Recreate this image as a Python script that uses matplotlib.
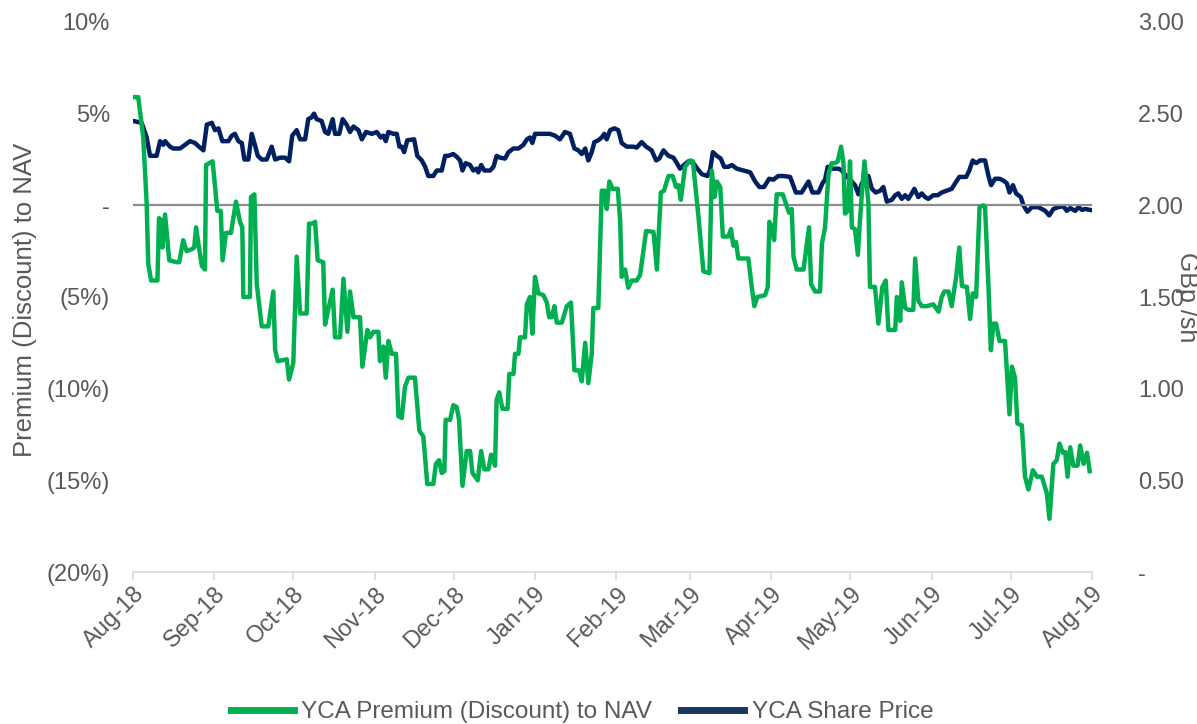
import pandas as pd
import matplotlib
matplotlib.use('Agg')
import matplotlib.pyplot as plt
import matplotlib.dates as mdates
from matplotlib.lines import Line2D

plt.rcParams['font.family'] = ['Liberation Sans', 'DejaVu Sans']

start = pd.Timestamp('2018-08-01')

# YCA premium (discount) to NAV, % -- x as days after 1 Aug 2018
prem_days = [0.1, 2.0, 3.9, 5.2, 5.8, 6.9, 9.3, 9.9, 10.7, 11.2, 12.2, 13.8, 16.6, 17.6, 19.1, 20.4,
             22.3, 23.3, 24.0, 24.9, 26.2, 27.4, 27.8, 30.3, 32.1, 33.4, 34.1, 35.4, 37.3, 39.2, 40.7,
             41.6, 42.0, 44.5, 44.9, 46.2, 47.1, 49.0, 51.5, 53.4, 54.1, 55.1, 58.5, 59.4, 61.0, 62.3,
             63.6, 66.1, 67.0, 68.3, 69.3, 70.3, 72.4, 73.1, 74.0, 76.0, 76.9, 78.8, 80.1, 81.6, 82.6,
             83.9, 86.4, 87.3, 89.2, 90.2, 91.5, 93.4, 94.0, 95.3, 96.2, 97.2, 98.5, 100.1, 101.0,
             102.3, 103.5, 104.8, 107.3, 109.0, 110.5, 112.0, 114.3, 115.3, 116.5, 117.5, 118.5,
             119.0, 120.7, 121.9, 123.2, 124.1, 125.4, 127.0, 128.3, 129.2, 131.2, 132.5, 133.7,
             135.3, 136.3, 137.8, 138.4, 139.4, 140.6, 142.6, 143.2, 144.8, 145.4, 146.7, 147.3,
             149.2, 149.9, 151.1, 152.0, 153.0, 154.3, 156.2, 157.5, 158.4, 159.4, 160.4, 161.3,
             163.2, 165.1, 166.7, 168.0, 169.8, 170.8, 172.1, 173.3, 174.6, 175.2, 177.1, 178.4,
             179.4, 180.3, 181.3, 182.5, 184.5, 185.4, 186.0, 187.3, 188.5, 189.8, 191.7, 193.0,
             195.3, 198.1, 199.4, 200.9, 202.1, 203.8, 205.4, 206.7, 207.6, 208.5, 210.1, 212.0,
             213.1, 215.2, 217.1, 219.4, 220.3, 221.3, 222.2, 223.5, 224.5, 226.6, 227.6, 228.5,
             229.5, 230.4, 234.2, 235.5, 236.5, 237.6, 240.6, 241.6, 242.2, 243.1, 244.0, 245.0,
             247.3, 249.7, 250.7, 251.4, 252.6, 255.2, 256.5, 257.3, 258.1, 259.6, 261.5, 262.2,
             263.4, 264.7, 265.9, 267.2, 268.2, 269.5, 270.4, 271.0, 272.1, 272.9, 273.6, 274.8,
             275.9, 276.7, 277.6, 278.4, 279.9, 280.5, 282.4, 283.7, 285.2, 286.5, 287.5, 290.1,
             290.7, 292.0, 292.6, 293.9, 295.1, 297.0, 297.7, 298.9, 300.2, 302.1, 304.6, 306.6,
             307.8, 308.8, 310.4, 311.6, 313.3, 314.5, 315.5, 317.4, 318.6, 319.6, 320.9, 322.2,
             323.7, 324.3, 325.6, 326.5, 327.5, 328.5, 329.8, 331.9, 333.6, 334.5, 335.7, 336.6,
             338.3, 339.5, 340.8, 342.5, 344.0, 345.9, 347.8, 348.8, 350.3, 351.6, 352.6, 353.9,
             354.8, 355.7, 356.7, 357.9, 359.5, 360.5, 361.8, 363.1, 364.1]
prem_pct = [5.9, 5.9, 3.7, 0.1, -3.2, -4.1, -4.1, -0.7, -0.8, -2.3, -0.5, -3.0, -3.1, -3.1, -1.9, -2.5,
            -2.4, -2.3, -1.2, -2.1, -3.3, -3.5, 2.2, 2.4, -0.3, -0.3, -3.0, -1.5, -1.5, 0.2, -0.9,
            -1.2, -5.0, -5.0, 0.45, 0.6, -4.3, -6.6, -6.6, -4.7, -7.9, -8.5, -8.4, -9.5, -8.6, -2.8,
            -5.9, -5.9, -1.0, -1.0, -0.9, -3.0, -3.1, -6.5, -5.9, -4.6, -7.2, -7.2, -4.0, -6.9, -4.7,
            -6.1, -6.1, -8.8, -6.8, -7.2, -6.9, -6.9, -8.5, -7.7, -9.4, -7.4, -8.1, -8.1, -11.5,
            -11.6, -9.9, -9.4, -9.4, -12.3, -12.6, -15.2, -15.2, -14.1, -13.9, -14.6, -14.5,
            -11.7, -11.7, -10.9, -11.0, -11.7, -15.3, -13.4, -13.4, -14.6, -15.0, -13.4, -14.4,
            -14.4, -13.6, -14.2, -10.6, -10.2, -11.1, -11.1, -9.2, -9.2, -8.1, -8.1, -7.2,
            -7.2, -5.4, -5.0, -7.0, -3.9, -4.8, -4.9, -5.3, -6.1, -6.1, -5.5, -6.4,
            -6.4, -5.5, -5.3, -9.0, -9.0, -9.6, -7.5, -9.7, -8.1, -5.6, -5.6, 0.8,
            0.8, -0.2, 1.3, 0.9, 0.9, -0.8, -3.9, -3.5, -4.5, -4.1, -4.1, -3.8,
            -1.4, -1.45, -3.5, 0.7, 0.8, 1.6, 1.6, 1.0, 1.1, 0.3, 2.1, 2.45,
            2.4, -0.6, -3.6, -3.7, 1.9, 0.45, 1.3, 1.0, -1.7, -1.7, -1.3, -2.2,
            -2.0, -2.9, -2.9, -4.45, -5.5, -5.0, -4.9, -4.45, -0.9, -1.2, -1.9, 0.6,
            0.6, -0.4, -0.2, -2.8, -3.5, -3.5, -2.1, -1.2, -4.3, -4.7, -4.7, -2.1,
            -1.2, 1.7, 2.3, 2.3, 2.4, 3.2, 2.3, -0.45, -0.3, 2.4, -1.2, -1.3,
            -2.7, -0.8, 1.0, 2.4, 0.1, -4.45, -4.45, -6.45, -4.45, -4.1, -6.8, -6.8,
            -5.0, -6.3, -4.2, -5.6, -5.7, -5.7, -2.9, -5.2, -5.5, -5.5, -5.4, -5.8,
            -5.0, -4.7, -4.7, -5.5, -3.9, -2.3, -4.4, -4.45, -6.2, -4.8, -5.0, -0.1,
            0.0, -0.1, -4.45, -7.9, -6.45, -6.45, -7.4, -7.4, -11.4, -8.8, -9.4, -11.9,
            -12.0, -14.8, -15.5, -14.45, -14.8, -14.8, -15.7, -17.1, -14.1, -13.9, -13.0, -13.5,
            -13.45, -14.8, -13.2, -14.2, -14.2, -13.1, -14.1, -13.5, -14.5]

# YCA share price, GBp/sh
price_days = [0.1, 3.3, 5.2, 6.5, 9.0, 10.3, 11.5, 12.2, 14.1, 15.3, 17.9, 19.8, 21.7, 23.6, 25.1,
              26.8, 28.1, 30.0, 31.2, 32.5, 34.0, 36.3, 37.6, 38.8, 40.1, 41.4, 42.4, 43.9, 45.2,
              46.2, 47.5, 49.0, 50.9, 52.8, 54.1, 56.0, 57.9, 59.4, 60.6, 62.3, 63.6, 65.5, 66.7,
              68.0, 68.9, 69.9, 71.8, 73.1, 74.3, 76.0, 76.9, 78.5, 79.8, 81.3, 82.6, 83.9, 85.8,
              87.1, 88.7, 90.9, 92.8, 94.3, 95.3, 96.2, 97.2, 99.1, 100.4, 101.4, 102.3, 103.2,
              104.4, 107.0, 108.2, 109.9, 111.2, 112.4, 114.3, 115.6, 117.5, 118.8, 120.0, 121.9,
              123.2, 124.5, 125.4, 126.6, 128.3, 129.5, 130.8, 131.4, 132.5, 133.7, 135.9, 137.2,
              138.4, 139.7, 141.6, 142.9, 144.8, 146.7, 148.6, 149.9, 151.1, 152.0, 153.0, 155.6,
              158.7, 160.6, 162.5, 164.4, 166.3, 168.0, 169.5, 170.8, 172.1, 173.3, 174.6, 175.6,
              177.1, 178.4, 179.4, 180.3, 181.6, 183.2, 184.7, 186.0, 187.9, 190.4, 191.7, 193.6,
              195.3, 197.4, 199.1, 200.3, 201.9, 203.8, 205.7, 207.0, 208.2, 209.7, 211.4, 213.3,
              214.8, 216.5, 218.6, 219.6, 220.7, 222.2, 223.7, 225.0, 226.6, 227.9, 229.8, 232.3,
              234.9, 236.8, 238.4, 240.2, 242.1, 243.7, 245.6, 247.5, 250.1, 251.0, 252.3, 254.5,
              255.8, 257.1, 258.6, 260.9, 262.4, 263.4, 264.4, 265.9, 268.5, 269.8, 271.7, 272.9,
              274.8, 276.1, 277.4, 278.6, 279.9, 281.2, 282.7, 284.4, 285.6, 286.9, 288.8, 290.1,
              291.3, 292.6, 293.9, 295.1, 296.4, 297.4, 298.9, 300.2, 301.5, 302.7, 304.6, 306.3,
              307.8, 309.7, 311.6, 312.9, 314.5, 317.1, 318.3, 319.6, 320.9, 322.4, 324.3, 325.6,
              326.6, 328.1, 329.8, 331.3, 332.6, 333.6, 334.9, 336.1, 337.9, 338.9, 340.4, 342.1,
              344.6, 347.2, 348.7, 350.3, 352.2, 354.1, 355.4, 356.7, 358.6, 359.9, 361.2, 362.4,
              364.3]
price_gbp = [2.46, 2.45, 2.37, 2.27, 2.27, 2.35, 2.33, 2.35, 2.32, 2.31, 2.31, 2.33, 2.35, 2.34, 2.32,
             2.30, 2.44, 2.45, 2.41, 2.42, 2.35, 2.35, 2.38, 2.39, 2.35, 2.34, 2.25, 2.25, 2.39,
             2.34, 2.27, 2.25, 2.25, 2.32, 2.25, 2.26, 2.26, 2.24, 2.38, 2.41, 2.36, 2.36, 2.47,
             2.48, 2.50, 2.47, 2.46, 2.40, 2.39, 2.47, 2.39, 2.39, 2.47, 2.44, 2.40, 2.43, 2.41,
             2.36, 2.40, 2.39, 2.40, 2.37, 2.38, 2.35, 2.40, 2.39, 2.39, 2.32, 2.32, 2.29,
             2.355, 2.36, 2.27, 2.245, 2.21, 2.16, 2.16, 2.19, 2.19, 2.27, 2.27, 2.28,
             2.265, 2.245, 2.19, 2.23, 2.22, 2.19, 2.20, 2.18, 2.22, 2.19, 2.19, 2.21,
             2.27, 2.26, 2.255, 2.29, 2.31, 2.31, 2.33, 2.36, 2.37, 2.34, 2.39, 2.39,
             2.39, 2.38, 2.36, 2.40, 2.39, 2.31, 2.30, 2.28, 2.31, 2.245, 2.29, 2.345,
             2.355, 2.37, 2.39, 2.36, 2.41, 2.42, 2.41, 2.34, 2.32, 2.32, 2.315, 2.345,
             2.32, 2.30, 2.245, 2.255, 2.30, 2.27, 2.26, 2.23, 2.20, 2.22, 2.24, 2.23,
             2.20, 2.17, 2.16, 2.19, 2.29, 2.27, 2.255, 2.21, 2.21, 2.22, 2.20, 2.19,
             2.18, 2.13, 2.10, 2.10, 2.145, 2.14, 2.16, 2.16, 2.155, 2.12, 2.07, 2.07,
             2.10, 2.13, 2.07, 2.07, 2.12, 2.14, 2.21, 2.20, 2.20, 2.19, 2.155, 2.14,
             2.11, 2.06, 2.12, 2.145, 2.16, 2.09, 2.07, 2.08, 2.10, 2.02, 2.03, 2.055,
             2.065, 2.035, 2.055, 2.035, 2.065, 2.09, 2.045, 2.065, 2.045, 2.035, 2.055, 2.055,
             2.07, 2.08, 2.09, 2.12, 2.155, 2.155, 2.19, 2.245, 2.23, 2.245, 2.245, 2.16,
             2.11, 2.145, 2.145, 2.135, 2.12, 2.07, 2.11, 2.065, 2.045, 2.0, 1.965, 1.99,
             1.99, 1.97, 1.945, 1.98, 1.99, 1.995, 1.97, 1.985, 1.97, 1.99, 1.975, 1.98,
             1.975]

left_ticks = [-20, -15, -10, -5, 0, 5, 10]
left_labels = ['(20%)', '(15%)', '(10%)', '(5%)', '-', '5%', '10%']
right_ticks = [0, 0.5, 1.0, 1.5, 2.0, 2.5, 3.0]
right_labels = ['-', '0.50', '1.00', '1.50', '2.00', '2.50', '3.00']

green = '#00B050'
navy = '#002060'
grey = '#595959'

prem_dates = start + pd.to_timedelta(prem_days, unit='D')
price_dates = start + pd.to_timedelta(price_days, unit='D')

fig = plt.figure(figsize=(11.97, 7.24), dpi=100)
ax = fig.add_axes([133 / 1197, 1 - 572 / 724, (1092 - 133) / 1197, 550 / 724])
ax2 = ax.twinx()

ax.axhline(0, color='#8c8c8c', lw=1.6, zorder=1)
ax.plot(prem_dates, prem_pct, color=green, lw=3.2, zorder=3)
ax2.plot(price_dates, price_gbp, color=navy, lw=3.2)

# green line sits above the navy one
ax.set_zorder(ax2.get_zorder() + 1)
ax.patch.set_visible(False)

ax.set_xlim(start, pd.Timestamp('2019-08-01'))
ax.set_ylim(-20, 10)
ax2.set_ylim(0, 3)

ax.set_yticks(left_ticks)
ax.set_yticklabels(left_labels)
ax2.set_yticks(right_ticks)
ax2.set_yticklabels(right_labels)

months = pd.date_range('2018-08-01', '2019-08-01', freq='MS')
ax.set_xticks(months)
ax.xaxis.set_major_formatter(mdates.DateFormatter('%b-%y'))
for lbl in ax.get_xticklabels():
    lbl.set_rotation(45)
    lbl.set_ha('right')
    lbl.set_rotation_mode('anchor')

for a in (ax, ax2):
    for s in a.spines.values():
        s.set_visible(False)
ax.spines['bottom'].set_visible(True)
ax.spines['bottom'].set_color('#d9d9d9')
ax.spines['bottom'].set_linewidth(1.2)

ax.tick_params(axis='x', colors='#d9d9d9', length=6, width=1.2, labelsize=17,
               labelcolor=grey, pad=2)
ax.tick_params(axis='y', length=0, labelsize=17, labelcolor=grey, pad=16.5)
ax2.tick_params(axis='y', length=0, labelsize=17, labelcolor=grey, pad=33)

fig.text(25 / 1197, 1 - 300 / 724, 'Premium (Discount) to NAV', rotation=90,
         ha='center', va='center', fontsize=18.5, color=grey)
fig.text(1187 / 1197, 1 - 297 / 724, 'GBp /sh', rotation=270,
         ha='center', va='center', fontsize=18, color=grey)

handles = [Line2D([], [], color=green, lw=5), Line2D([], [], color='#17375E', lw=5)]
fig.legend(handles, ['YCA Premium (Discount) to NAV', 'YCA Share Price'],
           loc='center', bbox_to_anchor=(582 / 1197, 1 - 712 / 724), ncol=2, frameon=False,
           fontsize=17.5, labelcolor=grey, handlelength=2.6, handletextpad=0.3,
           columnspacing=1.2)

fig.savefig('out.png', dpi=100)
